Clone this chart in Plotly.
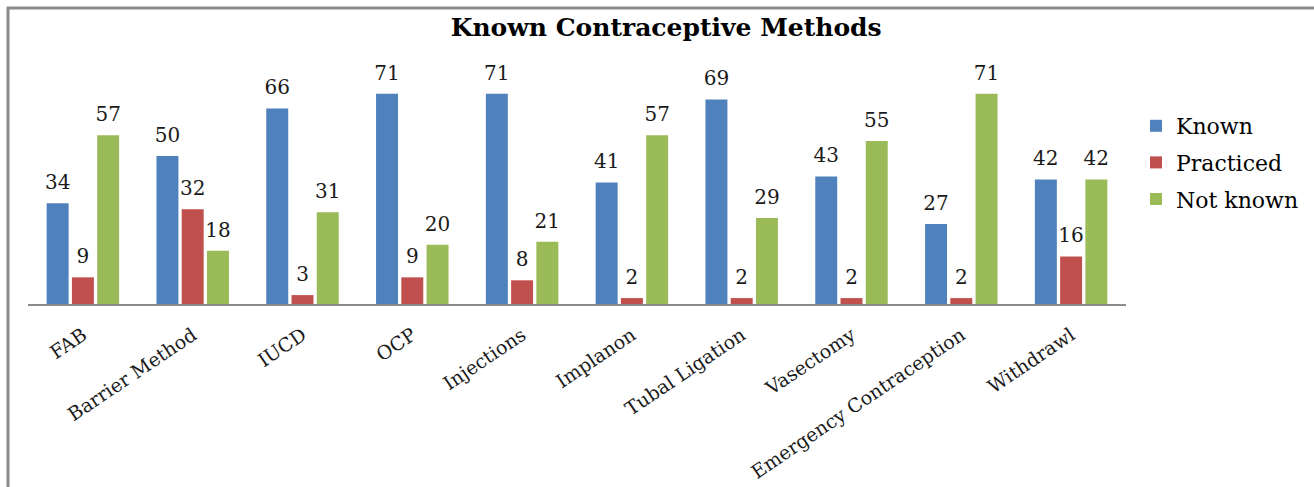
import plotly.graph_objects as go

categories = ["FAB", "Barrier Method", "IUCD", "OCP", "Injections", "Implanon",
              "Tubal Ligation", "Vasectomy", "Emergency Contraception", "Withdrawl"]
known = [34, 50, 66, 71, 71, 41, 69, 43, 27, 42]
practiced = [9, 32, 3, 9, 8, 2, 2, 2, 2, 16]
not_known = [57, 18, 31, 20, 21, 57, 29, 55, 71, 42]

series_names = ["Known", "Practiced", "Not known"]
series_values = [known, practiced, not_known]
colors = ["#4F81BD", "#C0504D", "#9BBB59"]

FONT = "DejaVu Serif"
BARGAP = 0.31
BARGROUPGAP = 0.13

W, H = 1314, 487
ML, MR, MT, MB = 28, 188, 67, 183

xs = list(range(len(categories)))
fig = go.Figure()
for name, vals, col in zip(series_names, series_values, colors):
    fig.add_trace(go.Bar(x=xs, y=vals, name=name, legendgroup=name,
                         marker=dict(color=col, line=dict(width=0)), hoverinfo="y"))

# value labels positioned over each bar slot
nser = len(series_names)
slot = (1 - BARGAP) / nser
for k, vals in enumerate(series_values):
    off = (k - (nser - 1) / 2) * slot
    fig.add_trace(go.Scatter(
        x=[x + off for x in xs], y=vals, mode="markers+text",
        text=[str(v) for v in vals], textposition="top center", cliponaxis=False,
        textfont=dict(family=FONT, size=20, color="#1a1a1a"),
        marker=dict(size=13, opacity=0), showlegend=False, hoverinfo="skip"))

# chart border (top and left)
pw = W - ML - MR
ph = H - MT - MB
def px_x(p):
    return (p - ML) / pw
def px_y(p):
    return (H - MB - p) / ph
border_col = "#8a8a8a"
fig.add_shape(type="line", xref="paper", yref="paper", x0=px_x(7), x1=px_x(W + 10),
              y0=px_y(8), y1=px_y(8), line=dict(color=border_col, width=3))
fig.add_shape(type="line", xref="paper", yref="paper", x0=px_x(8), x1=px_x(8),
              y0=px_y(7), y1=px_y(H + 10), line=dict(color=border_col, width=3))

fig.update_layout(
    width=W, height=H,
    margin=dict(l=ML, r=MR, t=MT, b=MB, pad=0, autoexpand=False),
    paper_bgcolor="white", plot_bgcolor="white",
    barmode="group", bargap=BARGAP, bargroupgap=BARGROUPGAP,
    title=dict(text="<b>Known Contraceptive Methods</b>", x=0.507, xref="container",
               xanchor="center", y=1 - 27 / H, yref="container", yanchor="middle",
               font=dict(family=FONT, size=25, color="black")),
    font=dict(family=FONT, color="black"),
    showlegend=True,
    legend=dict(x=px_x(1136), xanchor="left", y=px_y(105), yanchor="top",
                font=dict(family=FONT, size=22, color="black"),
                itemwidth=30, tracegroupgap=5, bgcolor="rgba(0,0,0,0)"),
    xaxis=dict(tickmode="array", tickvals=xs, ticktext=categories, tickangle=-34,
               range=[-0.5, len(categories) - 0.5], showgrid=False, zeroline=False,
               showline=True, linecolor="#8c8c8c", linewidth=1.5, ticks="",
               automargin=False, ticklabelstandoff=11,
               tickfont=dict(family=FONT, size=19, color="#1a1a1a")),
    yaxis=dict(range=[0, 80], visible=False, showgrid=False, zeroline=False,
               automargin=False),
)

fig.write_html("out.html")
